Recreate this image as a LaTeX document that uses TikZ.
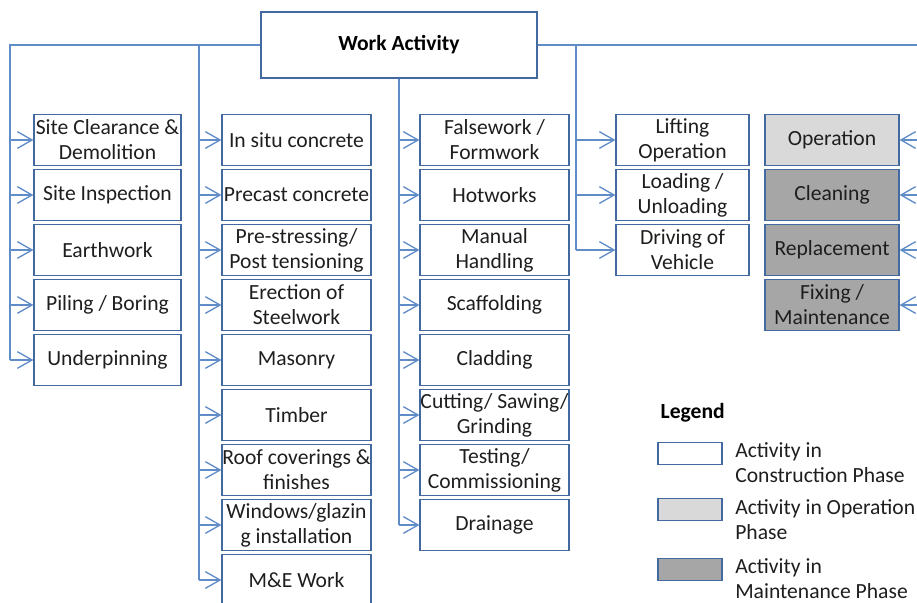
\documentclass[tikz,border=0pt]{standalone}
\usepackage{fontspec}
\setmainfont{Carlito}
\usepackage{tikz}
\usetikzlibrary{positioning, arrows.meta}
\usepackage{xcolor}
\definecolor{linkblue}{RGB}{96,140,200}
\definecolor{boxblue}{RGB}{66,106,160}
\definecolor{opgrey}{RGB}{217,217,217}
\definecolor{mtgrey}{RGB}{166,166,166}
\definecolor{inkgrey}{RGB}{30,30,30}

\begin{document}
\begin{tikzpicture}[x=0.75pt, y=-0.75pt,
  act/.style={draw=boxblue, line width=0.9pt, align=flush center, inner xsep=0pt, inner ysep=0pt,
    minimum height=38.5pt, text=inkgrey, font=\fontsize{16.2}{18.75}\selectfont},
  link/.style={draw=linkblue, line width=1pt},
  arr/.style={link, -{Straight Barb[length=11pt, width=12.5pt]}}]
  % Work activity breakdown
  \useasboundingbox (0,0) rectangle (917,603);
  \node[act, text width=207pt, minimum height=49.5pt, text=black, font=\fontsize{16.2}{18.75}\selectfont\bfseries] (wa) at (399,45) {Work Activity};
  \coordinate (c1) at (10,45);
  \coordinate (c2) at (199,45);
  \coordinate (c4) at (576,45);
  \coordinate (c5) at (920,45);

  % site works
  \node[act, text width=110.25pt] (sc) at (107.5,140) {Site Clearance \&\\Demolition};
  \node[act, text width=110.25pt] (si) at (107.5,195) {Site Inspection};
  \node[act, text width=110.25pt] (ew) at (107.5,250) {Earthwork};
  \node[act, text width=110.25pt] (pb) at (107.5,305) {Piling / Boring};
  \node[act, text width=110.25pt] (un) at (107.5,360) {Underpinning};

  % structure and finishes
  \node[act, text width=111.75pt] (ic) at (296.5,140) {In situ concrete};
  \node[act, text width=111.75pt] (pc) at (296.5,195) {Precast concrete};
  \node[act, text width=111.75pt] (ps) at (296.5,250) {Pre-stressing/\\Post tensioning};
  \node[act, text width=111.75pt] (es) at (296.5,305) {Erection of\\Steelwork};
  \node[act, text width=111.75pt] (ma) at (296.5,360) {Masonry};
  \node[act, text width=111.75pt] (ti) at (296.5,415) {Timber};
  \node[act, text width=111.75pt] (rc) at (296.5,470) {Roof coverings \&\\finishes};
  \node[act, text width=111.75pt] (wg) at (296.5,525) {Windows/glazin\\g installation};
  \node[act, text width=111.75pt] (me) at (296.5,580) {M\&E Work};

  % general trades
  \node[act, text width=111.75pt] (fw) at (494.5,140) {Falsework /\\Formwork};
  \node[act, text width=111.75pt] (hw) at (494.5,195) {Hotworks};
  \node[act, text width=111.75pt] (mh) at (494.5,250) {Manual\\Handling};
  \node[act, text width=111.75pt] (sf) at (494.5,305) {Scaffolding};
  \node[act, text width=111.75pt] (cl) at (494.5,360) {Cladding};
  \node[act, text width=111.75pt] (cs) at (494.5,415) {Cutting/ Sawing/\\Grinding};
  \node[act, text width=111.75pt] (tc) at (494.5,470) {Testing/\\Commissioning};
  \node[act, text width=111.75pt] (dr) at (494.5,525) {Drainage};

  % plant
  \node[act, text width=99.75pt] (lo) at (682.5,140) {Lifting\\Operation};
  \node[act, text width=99.75pt] (lu) at (682.5,195) {Loading /\\Unloading};
  \node[act, text width=99.75pt] (dv) at (682.5,250) {Driving of\\Vehicle};

  % operation and maintenance
  \node[act, text width=100.5pt, fill=opgrey] (op) at (832,140) {Operation};
  \node[act, text width=100.5pt, fill=mtgrey] (cn) at (832,195) {Cleaning};
  \node[act, text width=100.5pt, fill=mtgrey] (rp) at (832,250) {Replacement};
  \node[act, text width=100.5pt, fill=mtgrey] (fx) at (832,305) {Fixing /\\Maintenance};

  % trunk lines
  \draw[link] (wa.west) -- (c1) -- (c1 |- un.west);
  \draw[link] (c2) -- (c2 |- me.west);
  \draw[link] (wa.south) -- (wa.south |- dr.west);
  \draw[link] (wa.east) -- (c5) -- (c5 |- fx.east);
  \draw[link] (c4) -- (c4 |- dv.west);

  \draw[arr] (c1 |- sc.west) -- (sc.west);
  \draw[arr] (c1 |- si.west) -- (si.west);
  \draw[arr] (c1 |- ew.west) -- (ew.west);
  \draw[arr] (c1 |- pb.west) -- (pb.west);
  \draw[arr] (c1 |- un.west) -- (un.west);

  \draw[arr] (c2 |- ic.west) -- (ic.west);
  \draw[arr] (c2 |- pc.west) -- (pc.west);
  \draw[arr] (c2 |- ps.west) -- (ps.west);
  \draw[arr] (c2 |- es.west) -- (es.west);
  \draw[arr] (c2 |- ma.west) -- (ma.west);
  \draw[arr] (c2 |- ti.west) -- (ti.west);
  \draw[arr] (c2 |- rc.west) -- (rc.west);
  \draw[arr] (c2 |- wg.west) -- (wg.west);
  \draw[arr] (c2 |- me.west) -- (me.west);

  \draw[arr] (wa.south |- fw.west) -- (fw.west);
  \draw[arr] (wa.south |- hw.west) -- (hw.west);
  \draw[arr] (wa.south |- mh.west) -- (mh.west);
  \draw[arr] (wa.south |- sf.west) -- (sf.west);
  \draw[arr] (wa.south |- cl.west) -- (cl.west);
  \draw[arr] (wa.south |- cs.west) -- (cs.west);
  \draw[arr] (wa.south |- tc.west) -- (tc.west);
  \draw[arr] (wa.south |- dr.west) -- (dr.west);

  \draw[arr] (c4 |- lo.west) -- (lo.west);
  \draw[arr] (c4 |- lu.west) -- (lu.west);
  \draw[arr] (c4 |- dv.west) -- (dv.west);

  \draw[arr] (c5 |- op.east) -- (op.east);
  \draw[arr] (c5 |- cn.east) -- (cn.east);
  \draw[arr] (c5 |- rp.east) -- (rp.east);
  \draw[arr] (c5 |- fx.east) -- (fx.east);

  % legend
  \node[anchor=west, text=black, font=\fontsize{16.2}{18.75}\selectfont\bfseries] (lg) at (656,413) {Legend};
  \node[act, text width=48pt, minimum height=17pt] (k1) at (690,453.5) {};
  \node[act, text width=48pt, minimum height=17pt, fill=opgrey] (k2) at (690,509.5) {};
  \node[act, text width=48pt, minimum height=17pt, fill=mtgrey] (k3) at (690,569.5) {};
  \node[anchor=west, align=left, inner sep=0pt, text=inkgrey, font=\fontsize{16.2}{18.75}\selectfont] (t1) at (735,462.5) {Activity in\\Construction Phase};
  \node[anchor=west, align=left, inner sep=0pt, text=inkgrey, font=\fontsize{16.2}{18.75}\selectfont] (t2) at (735,519.5) {Activity in Operation\\Phase};
  \node[anchor=west, align=left, inner sep=0pt, text=inkgrey, font=\fontsize{16.2}{18.75}\selectfont] (t3) at (735,578.5) {Activity in\\Maintenance Phase};
\end{tikzpicture}
\end{document}
